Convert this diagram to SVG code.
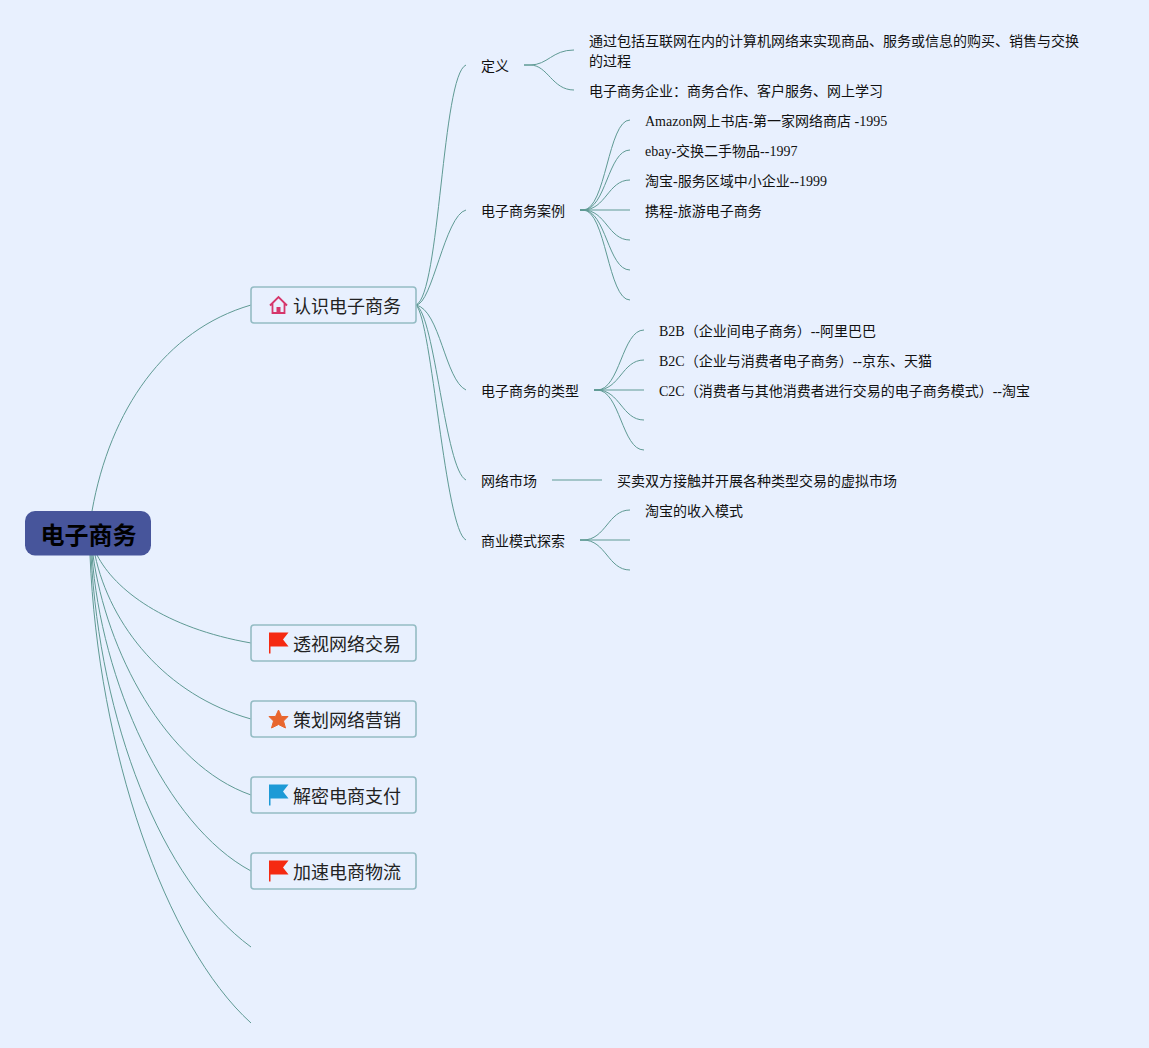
<svg xmlns="http://www.w3.org/2000/svg" width="1149" height="1048" viewBox="0 0 1149 1048">
<style>
text{font-family:"Liberation Serif","Noto Sans CJK SC",serif;font-size:14px;fill:#111}
.c path{fill:none;stroke:#5f9a94;stroke-width:1}
.b{fill:#e8f0fe;stroke:#94bcc4;stroke-width:1.6}
.t{font-size:18px;fill:#222}
</style>
<defs>
<path id="flag" d="M0 -10.500V10.500H1.500V3.500H19.500L14 -3.500L19.500 -10.500Z"/>
</defs>
<rect width="1149" height="1048" fill="#e8f0fe"/>
<g class="c" id="connectors">
<path d="M92 511C110 410 165 330 251 305"/>
<path d="M97 555C115 590 165 628 251 643"/>
<path d="M95 555C110 625 165 695 251 719"/>
<path d="M93 555C106 650 165 765 251 795"/>
<path d="M92 555C101 680 165 825 251 871"/>
<path d="M91 555C100 720 160 880 251 947"/>
<path d="M90 555C98 750 165 945 251 1023"/>
<path d="M416 305C440 295 442 75 466 65"/>
<path d="M416 305C432 305 445 215 466 210"/>
<path d="M416 305C440 310 445 380 466 390"/>
<path d="M416 305C435 315 445 470 466 480"/>
<path d="M416 305C432 320 445 530 466 540"/>
<path d="M524 65H530C548 65 552 50 574 50"/>
<path d="M524 65H530C548 65 552 90 574 90"/>
<path d="M580 210H583C606 210 608 120 630 120"/>
<path d="M580 210H583C606 210 608 150 630 150"/>
<path d="M580 210H583C606 210 608 180 630 180"/>
<path d="M580 210H630"/>
<path d="M580 210H583C606 210 608 240 630 240"/>
<path d="M580 210H583C606 210 608 270 630 270"/>
<path d="M580 210H583C606 210 608 300 630 300"/>
<path d="M594 390H597C620 390 622 330 644 330"/>
<path d="M594 390H597C620 390 622 360 644 360"/>
<path d="M594 390H644"/>
<path d="M594 390H597C620 390 622 420 644 420"/>
<path d="M594 390H597C620 390 622 450 644 450"/>
<path d="M552 480H602"/>
<path d="M580 540H583C606 540 608 510 630 510"/>
<path d="M580 540H630"/>
<path d="M580 540H583C606 540 608 570 630 570"/>
</g>
<g id="root"><rect x="25" y="511" width="126" height="44.500" rx="10" fill="#47559b"/>
<text x="88.500" y="544" text-anchor="middle" style="font-size:24px;font-weight:700;font-family:'Liberation Sans','Noto Sans CJK SC',sans-serif;fill:#000">电子商务</text></g>
<g id="n1"><rect class="b" x="251" y="287" width="165" height="36" rx="3"/>
<path d="M270 305.500L278.500 297L287 305.500M272.500 303V313H284.500V303" fill="none" stroke="#d6366b" stroke-width="1.800"/><rect x="276.500" y="307" width="4" height="6" fill="#d6366b"/>
<text class="t" x="293" y="313">认识电子商务</text></g>
<g id="n2"><rect class="b" x="251" y="625" width="165" height="36" rx="3"/>
<use href="#flag" x="269" y="643" fill="#f52a12"/>
<text class="t" x="293" y="651">透视网络交易</text></g>
<g id="n3"><rect class="b" x="251" y="701" width="165" height="36" rx="3"/>
<path d="M278.500 710L281.500 716.500H288L283.500 721L285.500 728L278.500 724.500L271.500 728L273.500 721L269 716.500H275.500Z" fill="#e8662e" stroke="#e8662e" stroke-width="1" stroke-linejoin="round"/>
<text class="t" x="293" y="727">策划网络营销</text></g>
<g id="n4"><rect class="b" x="251" y="777" width="165" height="36" rx="3"/>
<use href="#flag" x="269" y="795" fill="#1d9ad6"/>
<text class="t" x="293" y="803">解密电商支付</text></g>
<g id="n5"><rect class="b" x="251" y="853" width="165" height="36" rx="3"/>
<use href="#flag" x="269" y="871" fill="#f52a12"/>
<text class="t" x="293" y="879">加速电商物流</text></g>
<g id="d1"><text x="481" y="71">定义</text></g>
<g id="d2"><text x="481" y="216">电子商务案例</text></g>
<g id="d3"><text x="481" y="396">电子商务的类型</text></g>
<g id="d4"><text x="481" y="486">网络市场</text></g>
<g id="d5"><text x="481" y="546">商业模式探索</text></g>
<g id="e1"><text x="589" y="46">通过包括互联网在内的计算机网络来实现商品、服务或信息的购买、销售与交换</text><text x="589" y="66">的过程</text></g>
<g id="e2"><text x="589" y="96">电子商务企业：商务合作、客户服务、网上学习</text></g>
<g id="f1"><text x="645" y="126">Amazon网上书店-第一家网络商店 -1995</text></g>
<g id="f2"><text x="645" y="156">ebay-交换二手物品--1997</text></g>
<g id="f3"><text x="645" y="186">淘宝-服务区域中小企业--1999</text></g>
<g id="f4"><text x="645" y="216">携程-旅游电子商务</text></g>
<g id="g1"><text x="659" y="336">B2B（企业间电子商务）--阿里巴巴</text></g>
<g id="g2"><text x="659" y="366">B2C（企业与消费者电子商务）--京东、天猫</text></g>
<g id="g3"><text x="659" y="396">C2C（消费者与其他消费者进行交易的电子商务模式）--淘宝</text></g>
<g id="h1"><text x="617" y="486">买卖双方接触并开展各种类型交易的虚拟市场</text></g>
<g id="i1"><text x="645" y="516">淘宝的收入模式</text></g>
</svg>
